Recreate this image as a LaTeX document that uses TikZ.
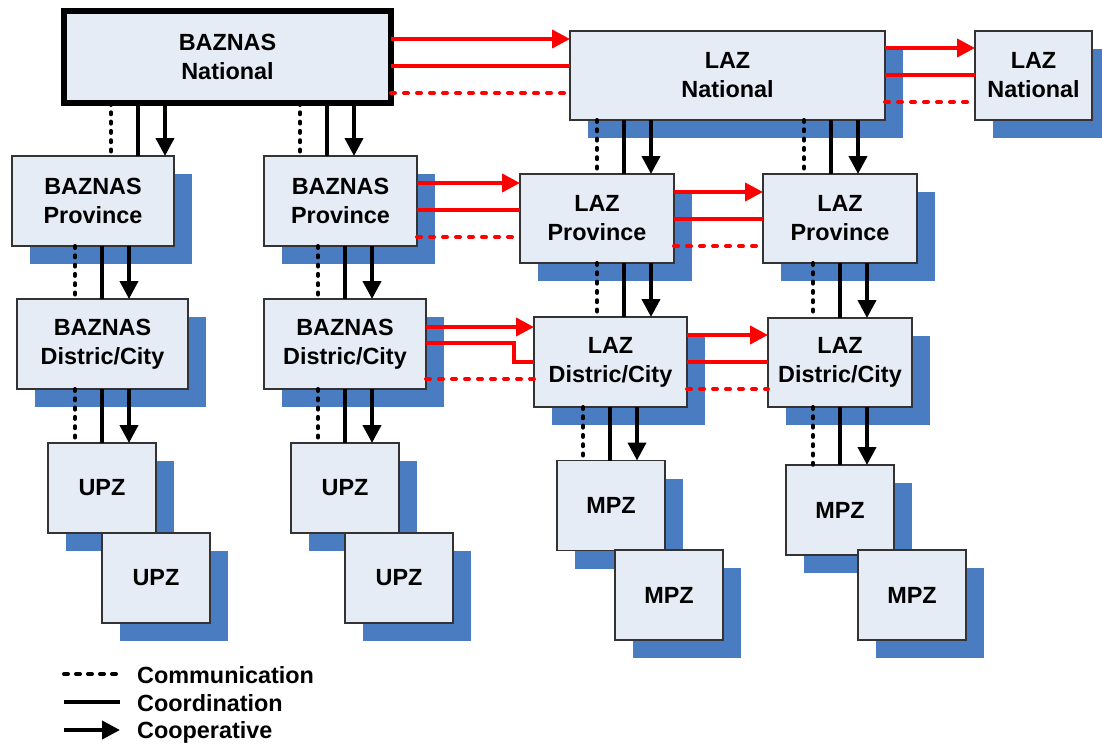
\documentclass[tikz,border=0pt]{standalone}
\usepackage{fontspec}
\setmainfont{Liberation Sans}
\usetikzlibrary{arrows.meta,shadows}

\definecolor{boxfill}{RGB}{230,236,246}
\definecolor{shadeblue}{RGB}{74,124,193}

\tikzset{
	boxbase/.style={fill=boxfill, inner sep=0pt, outer sep=0pt, align=center,
		font=\fontsize{23.4}{29}\selectfont\bfseries},
	org/.style={boxbase, draw=black!80, line width=1.2pt,
		drop shadow={shadow xshift=18pt, shadow yshift=-18pt, fill=shadeblue, opacity=1}},
	apex/.style={boxbase, draw=black, line width=5.5pt},
	unit/.style={org, minimum width=108pt, minimum height=90pt},
	comm/.style={line width=4pt, line cap=round, dash pattern=on 2pt off 7.3pt},
	coord/.style={line width=4pt},
	coop/.style={line width=4pt, -{Triangle[length=18pt,width=18pt]}},
	rcomm/.style={red, line width=4pt, line cap=round, dash pattern=on 4pt off 9pt},
	rcoord/.style={red, line width=4pt},
	rcoop/.style={red, line width=4pt, -{Triangle[length=18pt,width=18pt]}},
	keycomm/.style={line width=4pt, line cap=round, dash pattern=on 4pt off 8pt},
	key/.style={anchor=base west, inner sep=0pt, font=\fontsize{23.4}{29}\selectfont\bfseries}
}

\newcommand{\downlinks}[3]{%
	\pgfmathsetmacro{\lx}{#3-27}\pgfmathsetmacro{\rx}{#3+27}%
	\draw[comm] (\lx,0 |- #1.south) -- (\lx,0 |- #2.north);
	\draw[coord] (#3,0 |- #1.south) -- (#3,0 |- #2.north);
	\draw[coop] (\rx,0 |- #1.south) -- (\rx,0 |- #2.north);
}
\newcommand{\rightlinks}[3]{%
	\pgfmathsetmacro{\ty}{#3-27}\pgfmathsetmacro{\by}{#3+27}%
	\draw[rcoop] (#1.east |- 0,\ty) -- (#2.west |- 0,\ty);
	\draw[rcoord] (#1.east |- 0,#3) -- (#2.west |- 0,#3);
	\draw[rcomm] (#1.east |- 0,\by) -- (#2.west |- 0,\by);
}

\begin{document}
\begin{tikzpicture}[x=1pt, y=-1pt]
	\useasboundingbox (0,0) rectangle (1102,744);

	\node(bnat) [apex, minimum width=327pt, minimum height=92pt] at (227.5,57) {BAZNAS\\National};
	\node(lnat) [org, minimum width=315pt, minimum height=89pt] at (727.5,75.5) {LAZ\\National};
	\node(lnatb) [org, minimum width=117pt, minimum height=89pt] at (1033.5,75.5) {LAZ\\National};

	\node(bprova) [org, minimum width=162pt, minimum height=90pt] at (93,201) {BAZNAS\\Province};
	\node(bprovb) [org, minimum width=153pt, minimum height=90pt] at (340.5,201) {BAZNAS\\Province};
	\node(lprova) [org, minimum width=154pt, minimum height=89pt] at (597,218.5) {LAZ\\Province};
	\node(lprovb) [org, minimum width=154pt, minimum height=89pt] at (840,218.5) {LAZ\\Province};

	\node(bdisa) [org, minimum width=171pt, minimum height=90pt] at (102.5,344) {BAZNAS\\Distric/City};
	\node(bdisb) [org, minimum width=162pt, minimum height=90pt] at (345,344) {BAZNAS\\Distric/City};
	\node(ldisa) [org, minimum width=153pt, minimum height=90pt] at (610.5,362) {LAZ\\Distric/City};
	\node(ldisb) [org, minimum width=144pt, minimum height=89pt] at (840,362.5) {LAZ\\Distric/City};

	\node(upzaa) [unit] at (102,488) {UPZ};
	\node(upzab) [unit] at (156,578) {UPZ};
	\node(upzba) [unit] at (345,488) {UPZ};
	\node(upzbb) [unit] at (399,578) {UPZ};
	\node(mpzaa) [unit] at (611,505.5) {MPZ};
	\node(mpzab) [unit] at (669,595) {MPZ};
	\node(mpzba) [unit] at (840,510) {MPZ};
	\node(mpzbb) [unit] at (912,595) {MPZ};

	\downlinks{bnat}{bprova}{138}
	\downlinks{bnat}{bprovb}{327}
	\downlinks{bprova}{bdisa}{102}
	\downlinks{bprovb}{bdisb}{345}
	\downlinks{bdisa}{upzaa}{102}
	\downlinks{bdisb}{upzba}{345}
	\downlinks{lnat}{lprova}{624}
	\downlinks{lnat}{lprovb}{831}
	\downlinks{lprova}{ldisa}{624}
	\downlinks{lprovb}{ldisb}{840}
	\downlinks{ldisa}{mpzaa}{610}
	\downlinks{ldisb}{mpzba}{840}

	\rightlinks{bnat}{lnat}{66}
	\rightlinks{lnat}{lnatb}{75}
	\rightlinks{bprovb}{lprova}{210}
	\rightlinks{lprova}{lprovb}{219}
	\rightlinks{ldisa}{ldisb}{362}
	\draw[rcoop] (bdisb.east |- 0,327) -- (ldisa.west |- 0,327);
	\draw[rcoord] (bdisb.east |- 0,343) -| (514,362) -- (ldisa.west |- 0,362);
	\draw[rcomm] (bdisb.east |- 0,379) -- (ldisa.west |- 0,379);

	\coordinate(keya) at (64,674);
	\coordinate(keyb) at (64,702);
	\coordinate(keyc) at (64,730);
	\draw[keycomm] (keya) -- ++(56,0);
	\draw[coord] (keyb) -- ++(56,0);
	\draw[coop] (keyc) -- ++(56,0);
	\node(tcomm) [key] at (137,683) {Communication};
	\node(tcoord) [key] at (137,711) {Coordination};
	\node(tcoop) [key] at (137,738) {Cooperative};
\end{tikzpicture}
\end{document}
